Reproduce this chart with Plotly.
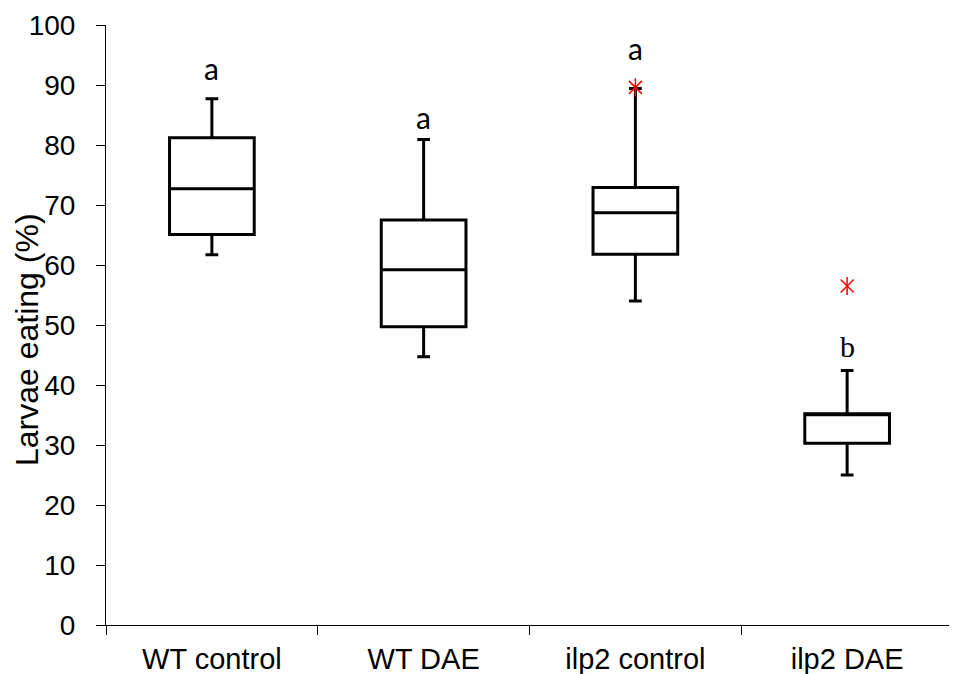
import plotly.graph_objects as go

categories = ["WT control", "WT DAE", "ilp2 control", "ilp2 DAE"]
q1 = [65.1, 49.7, 61.8, 30.3]
median = [72.7, 59.2, 68.7, 35.1]
q3 = [81.2, 67.5, 72.9, 35.2]
lower_whisker = [61.7, 44.7, 54.0, 25.0]
upper_whisker = [87.7, 80.9, 89.4, 42.4]

outlier_x = ["ilp2 control", "ilp2 DAE"]
outlier_y = [89.6, 56.5]

sig_letters = ["a", "a", "a", "b"]
sig_y = [92.8, 84.6, 96.1, 46.4]

fig = go.Figure()
fig.add_trace(go.Box(
    x=categories, q1=q1, median=median, q3=q3,
    lowerfence=lower_whisker, upperfence=upper_whisker,
    fillcolor="white", line=dict(color="black", width=3),
    width=0.4, whiskerwidth=0.15, boxpoints=False, showlegend=False,
))
for sym in ["x-thin-open", "line-ns-open"]:
    fig.add_trace(go.Scatter(
        x=outlier_x, y=outlier_y, mode="markers",
        marker=dict(symbol=sym, size=13, color="red", line=dict(color="red", width=1.5)),
        showlegend=False,
    ))

for cat, letter, yv in zip(categories, sig_letters, sig_y):
    fam = "Liberation Serif" if letter == "b" else "Lato"
    fig.add_annotation(x=cat, y=yv, text=letter, showarrow=False,
                       font=dict(family=fam, size=30, color="black"))

fig.add_annotation(xref="paper", yref="paper", x=-98 / 847, y=0.475,
                   text="Larvae eating (%)", textangle=-90, showarrow=False,
                   xanchor="left", yanchor="middle", borderpad=0,
                   font=dict(family="Liberation Sans", size=32, color="black"))

fig.update_layout(
    width=949, height=666,
    margin=dict(l=98, r=4, t=17, b=49),
    plot_bgcolor="white", paper_bgcolor="white",
    font=dict(family="Liberation Sans", size=28, color="black"),
)
fig.update_xaxes(
    type="category", categoryorder="array", categoryarray=categories,
    range=[-0.5, 3.5], showline=True, linecolor="black", linewidth=1,
    ticks="outside", ticklen=9, tickcolor="black", tickson="boundaries",
    showgrid=False, zeroline=False, tickfont=dict(size=29), ticklabelstandoff=8,
    automargin=False,
)
fig.update_yaxes(
    range=[0, 100], dtick=10, showline=True, linecolor="black", linewidth=1,
    ticks="outside", ticklen=9, tickcolor="black", showgrid=False, zeroline=False,
    tickfont=dict(size=28), ticklabelstandoff=15, automargin=False,
)

fig.write_html("out.html")
